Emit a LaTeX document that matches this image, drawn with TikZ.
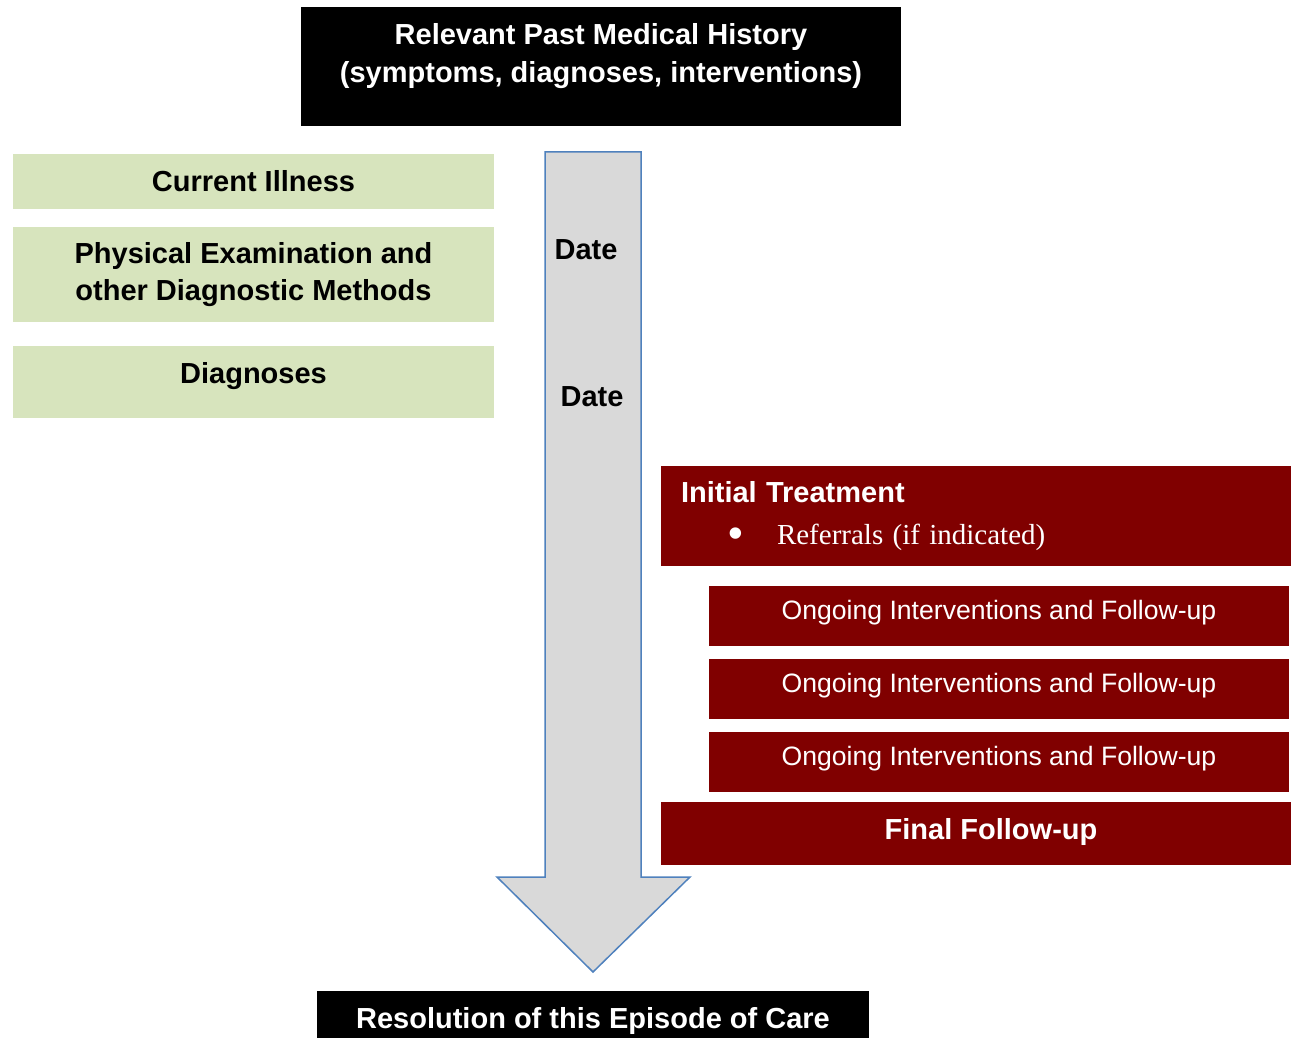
\documentclass[tikz,border=0pt]{standalone}
\usepackage{fontspec}
\setmainfont{Liberation Sans}
\newfontfamily\timesfont{Liberation Serif}
\usepackage{tikz}
\usetikzlibrary{positioning}
\definecolor{boxred}{HTML}{800000}
\definecolor{boxgreen}{HTML}{D7E4BD}
\definecolor{arrowgray}{HTML}{D9D9D9}
\definecolor{arrowblue}{HTML}{4F81BD}
\tikzset{
  boldtext/.style={font=\bfseries\fontsize{14.5}{18.75}\selectfont},
  darkbox/.style={fill=black, text=white, inner sep=0pt, boldtext},
  greenbox/.style={fill=boxgreen, inner sep=0pt, minimum width=240.5pt, align=center, boldtext},
  redbox/.style={fill=boxred, text=white, inner sep=0pt},
  ongoingbox/.style={redbox, minimum width=290pt, minimum height=30pt, text height=9.7pt, text depth=6.2pt, font=\fontsize{13.3}{16}\selectfont},
}

\begin{document}
\begin{tikzpicture}[x=0.5pt, y=-0.5pt]
\useasboundingbox (0,0) rectangle (1291,1038);
\node[darkbox, minimum width=300pt, minimum height=59.5pt] (history) at (601,66.5) {};
\node[boldtext, text=white, align=center] (historytext) at (601,56) {Relevant Past Medical History\\(symptoms, diagnoses, interventions)};
\node[greenbox, minimum height=27.5pt] (illness) at (253.5,181.5) {Current Illness};
\node[greenbox, minimum height=47.5pt] (exam) at (253.5,274.5) {Physical Examination and\\other Diagnostic Methods};
\node[greenbox, minimum height=36pt, text height=10.5pt, text depth=9pt] (diagnoses) at (253.5,382) {Diagnoses};
\draw[fill=arrowgray, draw=arrowblue, line width=0.75pt, line join=miter] (545,152) -- (641,152) -- (641,877) -- (690,877) -- (593,972) -- (497,877) -- (545,877) -- cycle;
\node[boldtext] (date1) at (586,250) {Date};
\node[boldtext] (date2) at (592,397) {Date};
\node[redbox, minimum width=315pt, minimum height=50pt, text width=295pt, inner xsep=10pt, align=left, font=\fontsize{14}{18.75}\selectfont] (initial) at (976,516)
  {{\bfseries\fontsize{14.5}{18.75}\selectfont Initial Treatment}\\[2pt]
   \hspace*{23.5pt}\makebox[24.5pt][l]{\raisebox{-1.6pt}{\scalebox{1.45}{\fontsize{14.5}{18.75}\selectfont\textbullet}}}{\timesfont\fontsize{14.5}{18.75}\selectfont Referrals (if indicated)}};
\node[ongoingbox] (ongoing1) at (999,616) {Ongoing Interventions and Follow-up};
\node[ongoingbox, below=6pt of ongoing1] (ongoing2) {Ongoing Interventions and Follow-up};
\node[ongoingbox, below=6pt of ongoing2] (ongoing3) {Ongoing Interventions and Follow-up};
\node[redbox, boldtext, minimum width=315pt, minimum height=31.5pt, text height=10.6pt, text depth=4.7pt] (final) at (976,833.5) {\hspace*{15pt}Final Follow-up};
\node[darkbox, minimum width=276pt, minimum height=27pt, text height=13.6pt, text depth=3pt] (resolution) at (593,1018) {Resolution of this Episode of Care};
\end{tikzpicture}
\end{document}
